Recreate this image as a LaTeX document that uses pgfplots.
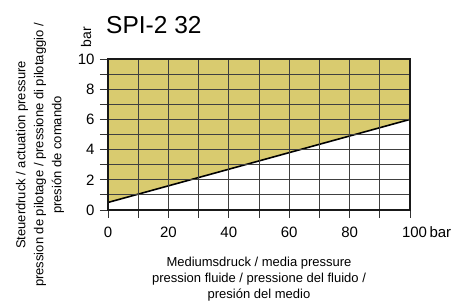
\documentclass[border=0pt]{standalone}
\usepackage{pgfplots}
\pgfplotsset{compat=1.18}
\usepackage{fontspec}
\setmainfont{Liberation Sans}
\definecolor{fillyellow}{RGB}{217,203,111}
\begin{document}
\begin{tikzpicture}
\path[use as bounding box] (-108pt,-92pt) rectangle (363pt,210pt);
\begin{axis}[
  at={(0pt,0pt)}, anchor=south west,
  scale only axis, width=302pt, height=151pt,
  xmin=0, xmax=100, ymin=0, ymax=10,
  xtick={0,20,...,100},
  xticklabels={0,20,40,60,80,\makebox[0pt][l]{\hspace{-8pt}100\,bar}},
  ytick={0,2,...,10},
  minor xtick={10,30,...,90},
  minor ytick={1,3,...,9},
  xtick pos=bottom, ytick pos=left,
  tick align=outside,
  major tick length=8pt, minor tick length=8pt,
  tick style={black!80, line width=0.9pt},
  grid=both,
  major grid style={black!75, line width=0.9pt},
  minor grid style={black!75, line width=0.9pt},
  axis line style={black!90, line width=1.6pt},
  axis on top,
  tick label style={font=\fontsize{15}{17}\selectfont},
  /pgf/number format/assume math mode=true,
  xticklabel style={yshift=-5pt},
  yticklabel style={xshift=-2pt},
]
\addplot[fill=fillyellow, draw=none] coordinates {(0,0.5) (100,6) (100,10) (0,10)} -- cycle;
\addplot[black, line width=1.6pt] coordinates {(0,0.5) (100,6)};
\end{axis}
\node[anchor=base west, inner sep=0pt, font=\fontsize{24.5}{27}\selectfont] at (-2pt,176pt) {SPI-2 32};
\node[rotate=90, inner sep=0pt, font=\fontsize{14}{16}\selectfont] at (-22pt,173pt) {bar};
\node[align=center, inner sep=0pt, font=\fontsize{13}{16}\selectfont] at (151pt,-69pt) {Mediumsdruck / media pressure\\pression fluide / pressione del fluido /\\presión del medio};
\node[rotate=90, align=center, inner sep=0pt, font=\fontsize{13}{18}\selectfont] at (-68pt,55pt) {Steuerdruck / actuation pressure\\pression de pilotage / pressione di pilotaggio /\\presión de comando};
\end{tikzpicture}
\end{document}
